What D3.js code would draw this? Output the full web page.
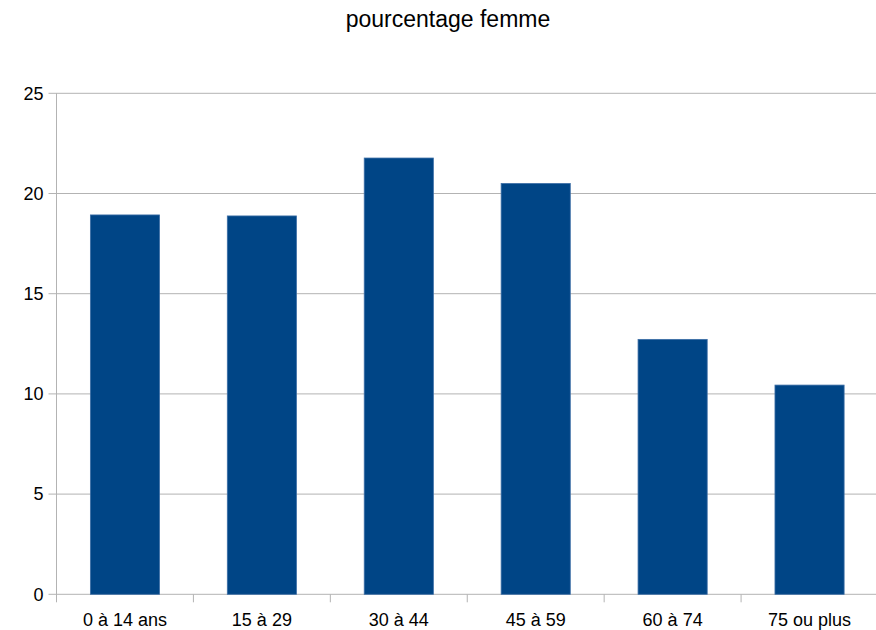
<!DOCTYPE html>
<html>
<head>
<meta charset="utf-8">
<script src="https://d3js.org/d3.v7.min.js"></script>
<style>
  body { margin: 0; background: #fff; }
  text { font-family: "Liberation Sans", Arial, sans-serif; fill: #000; }
</style>
</head>
<body>
<svg id="chart"></svg>
<script>
const categories = ['0 à 14 ans', '15 à 29', '30 à 44', '45 à 59', '60 à 74', '75 ou plus']
const values = [18.93, 18.88, 21.77, 20.5, 12.72, 10.44]
const yTicks = [0, 5, 10, 15, 20, 25]
const title = 'pourcentage femme'

const width = 876
const height = 630
const margin = { top: 93.3, right: -2, bottom: 35.7, left: 56.5 }

const svg = d3.select('#chart')
  .attr('width', width)
  .attr('height', height)

const x = d3.scaleBand()
  .domain(categories)
  .range([margin.left, width - margin.right])
  .paddingInner(0.495)
  .paddingOuter(0.2475)

const y = d3.scaleLinear()
  .domain([0, 25])
  .range([height - margin.bottom, margin.top])

// gridlines
svg.append('g')
  .selectAll('line')
  .data(yTicks)
  .enter().append('line')
  .attr('x1', margin.left - 8)
  .attr('x2', width)
  .attr('y1', d => y(d))
  .attr('y2', d => y(d))
  .attr('stroke', '#b3b3b3')
  .attr('stroke-width', 1)

// y axis line
svg.append('line')
  .attr('x1', margin.left).attr('x2', margin.left)
  .attr('y1', y(25)).attr('y2', y(0) + 8)
  .attr('stroke', '#b3b3b3')

// y labels
svg.append('g')
  .selectAll('text')
  .data(yTicks)
  .enter().append('text')
  .attr('x', margin.left - 13)
  .attr('y', d => y(d))
  .attr('dy', '0.35em')
  .attr('text-anchor', 'end')
  .style('font-size', '18px')
  .text(d => d)

// category ticks
const gap = x.step() - x.bandwidth()
svg.append('g')
  .selectAll('line')
  .data(categories.slice(1))
  .enter().append('line')
  .attr('x1', d => x(d) - gap / 2)
  .attr('x2', d => x(d) - gap / 2)
  .attr('y1', y(0))
  .attr('y2', y(0) + 8)
  .attr('stroke', '#b3b3b3')

// bars
svg.append('g')
  .selectAll('rect')
  .data(values)
  .enter().append('rect')
  .attr('x', (d, i) => x(categories[i]))
  .attr('width', x.bandwidth())
  .attr('y', d => y(d))
  .attr('height', d => y(0) - y(d))
  .attr('fill', '#004586')
  .attr('stroke', '#3c6ea6')
  .attr('stroke-width', 0.8)

// x labels
svg.append('g')
  .selectAll('text')
  .data(categories)
  .enter().append('text')
  .attr('x', d => x(d) + x.bandwidth() / 2)
  .attr('y', 626)
  .attr('text-anchor', 'middle')
  .style('font-size', '18px')
  .text(d => d)

// title
svg.append('text')
  .attr('x', 448)
  .attr('y', 27)
  .attr('text-anchor', 'middle')
  .style('font-size', '23px')
  .text(title)
</script>
</body>
</html>
